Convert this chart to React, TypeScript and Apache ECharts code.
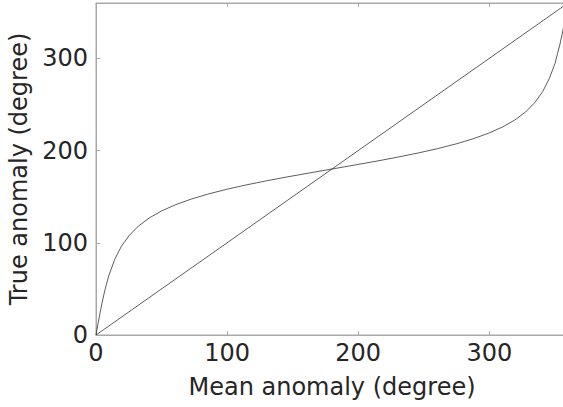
import React, { useEffect, useRef } from "react";
import * as echarts from "echarts";

// Mean anomaly (degree) samples and true anomaly (degree)
const meanAnomaly = [
  0, 1.5, 3.04, 4.62, 6.28, 8.05, 9.95, 14.22, 19.28, 25.27, 32.31, 40.5, 49.89,
  60.5, 72.31, 85.27, 99.28, 114.22, 129.95, 146.28, 163.04, 180, 196.96, 213.72,
  230.05, 245.78, 260.73, 274.72, 287.69, 299.5, 310.11, 319.5, 327.69, 334.73,
  340.72, 345.78, 350.05, 351.95, 353.72, 355.38, 356.96, 358.5, 360,
];
const trueAnomaly = [
  0, 11.87, 23.53, 34.8, 45.54, 55.64, 65.06, 81.8, 95.98, 107.92, 118.08, 126.82,
  134.42, 141.16, 147.22, 152.74, 157.84, 162.62, 167.16, 171.53, 175.79, 180,
  184.21, 188.47, 192.84, 197.38, 202.16, 207.26, 212.78, 218.84, 225.58, 233.18,
  241.92, 252.08, 264.02, 278.2, 294.36, 304.94, 314.46, 325.2, 336.47, 348.13, 360,
];
const diagonalX = [0, 360];
const diagonalY = [0, 360];

const xTitle = "Mean anomaly (degree)";
const yTitle = "True anomaly (degree)";

export default function App() {
  const ref = useRef<HTMLDivElement>(null);
  useEffect(() => {
    if (!ref.current) return;
    const chart = echarts.init(ref.current, undefined, { renderer: "svg" });
    const axisColor = "#a8a8a8";
    const textColor = "#262626";
    const font = "DejaVu Sans";
    const curve = meanAnomaly.map((m, i) => [m, trueAnomaly[i]]);
    const diag = diagonalX.map((x, i) => [x, diagonalY[i]]);
    chart.setOption({
      animation: false,
      grid: {
        left: 96,
        right: -5,
        top: 3,
        bottom: 72,
        show: true,
        borderColor: axisColor,
        borderWidth: 1,
        backgroundColor: "transparent",
        outerBoundsMode: "none",
        containLabel: false,
      },
      xAxis: [
        {
          type: "value",
          min: 0,
          max: 360,
          interval: 100,
          name: xTitle,
          nameLocation: "middle",
          nameGap: 40,
          nameTextStyle: { fontFamily: font, fontSize: 24, color: textColor },
          axisLine: { show: true, lineStyle: { color: axisColor, width: 1 } },
          axisTick: { show: true, inside: true, length: 4, lineStyle: { color: axisColor } },
          axisLabel: { fontFamily: font, fontSize: 24, color: textColor, margin: 6, showMaxLabel: false },
          splitLine: { show: false },
        },
        {
          type: "value",
          position: "top",
          min: 0,
          max: 360,
          interval: 100,
          axisLine: { show: true, lineStyle: { color: axisColor, width: 1 } },
          axisTick: { show: true, inside: true, length: 4, lineStyle: { color: axisColor } },
          axisLabel: { show: false },
          splitLine: { show: false },
        },
      ],
      yAxis: {
        type: "value",
        min: 0,
        max: 360,
        interval: 100,
        name: yTitle,
        nameLocation: "middle",
        nameGap: 58,
        nameTextStyle: { fontFamily: font, fontSize: 24, color: textColor },
        axisLine: { show: true, lineStyle: { color: axisColor, width: 1 } },
        axisTick: { show: true, inside: true, length: 4, lineStyle: { color: axisColor } },
        axisLabel: { fontFamily: font, fontSize: 24, color: textColor, margin: 8, showMaxLabel: false },
        splitLine: { show: false },
      },
      series: [
        {
          type: "line",
          data: curve,
          showSymbol: false,
          symbol: "none",
          lineStyle: { color: "#333333", width: 0.8 },
          clip: true,
        },
        {
          type: "line",
          data: diag,
          showSymbol: false,
          symbol: "none",
          lineStyle: { color: "#333333", width: 0.8 },
          clip: true,
        },
      ],
    });
    return () => chart.dispose();
  }, []);
  return <div ref={ref} style={{ width: 563, height: 407, position: "absolute", left: 0, top: 0 }} />;
}
